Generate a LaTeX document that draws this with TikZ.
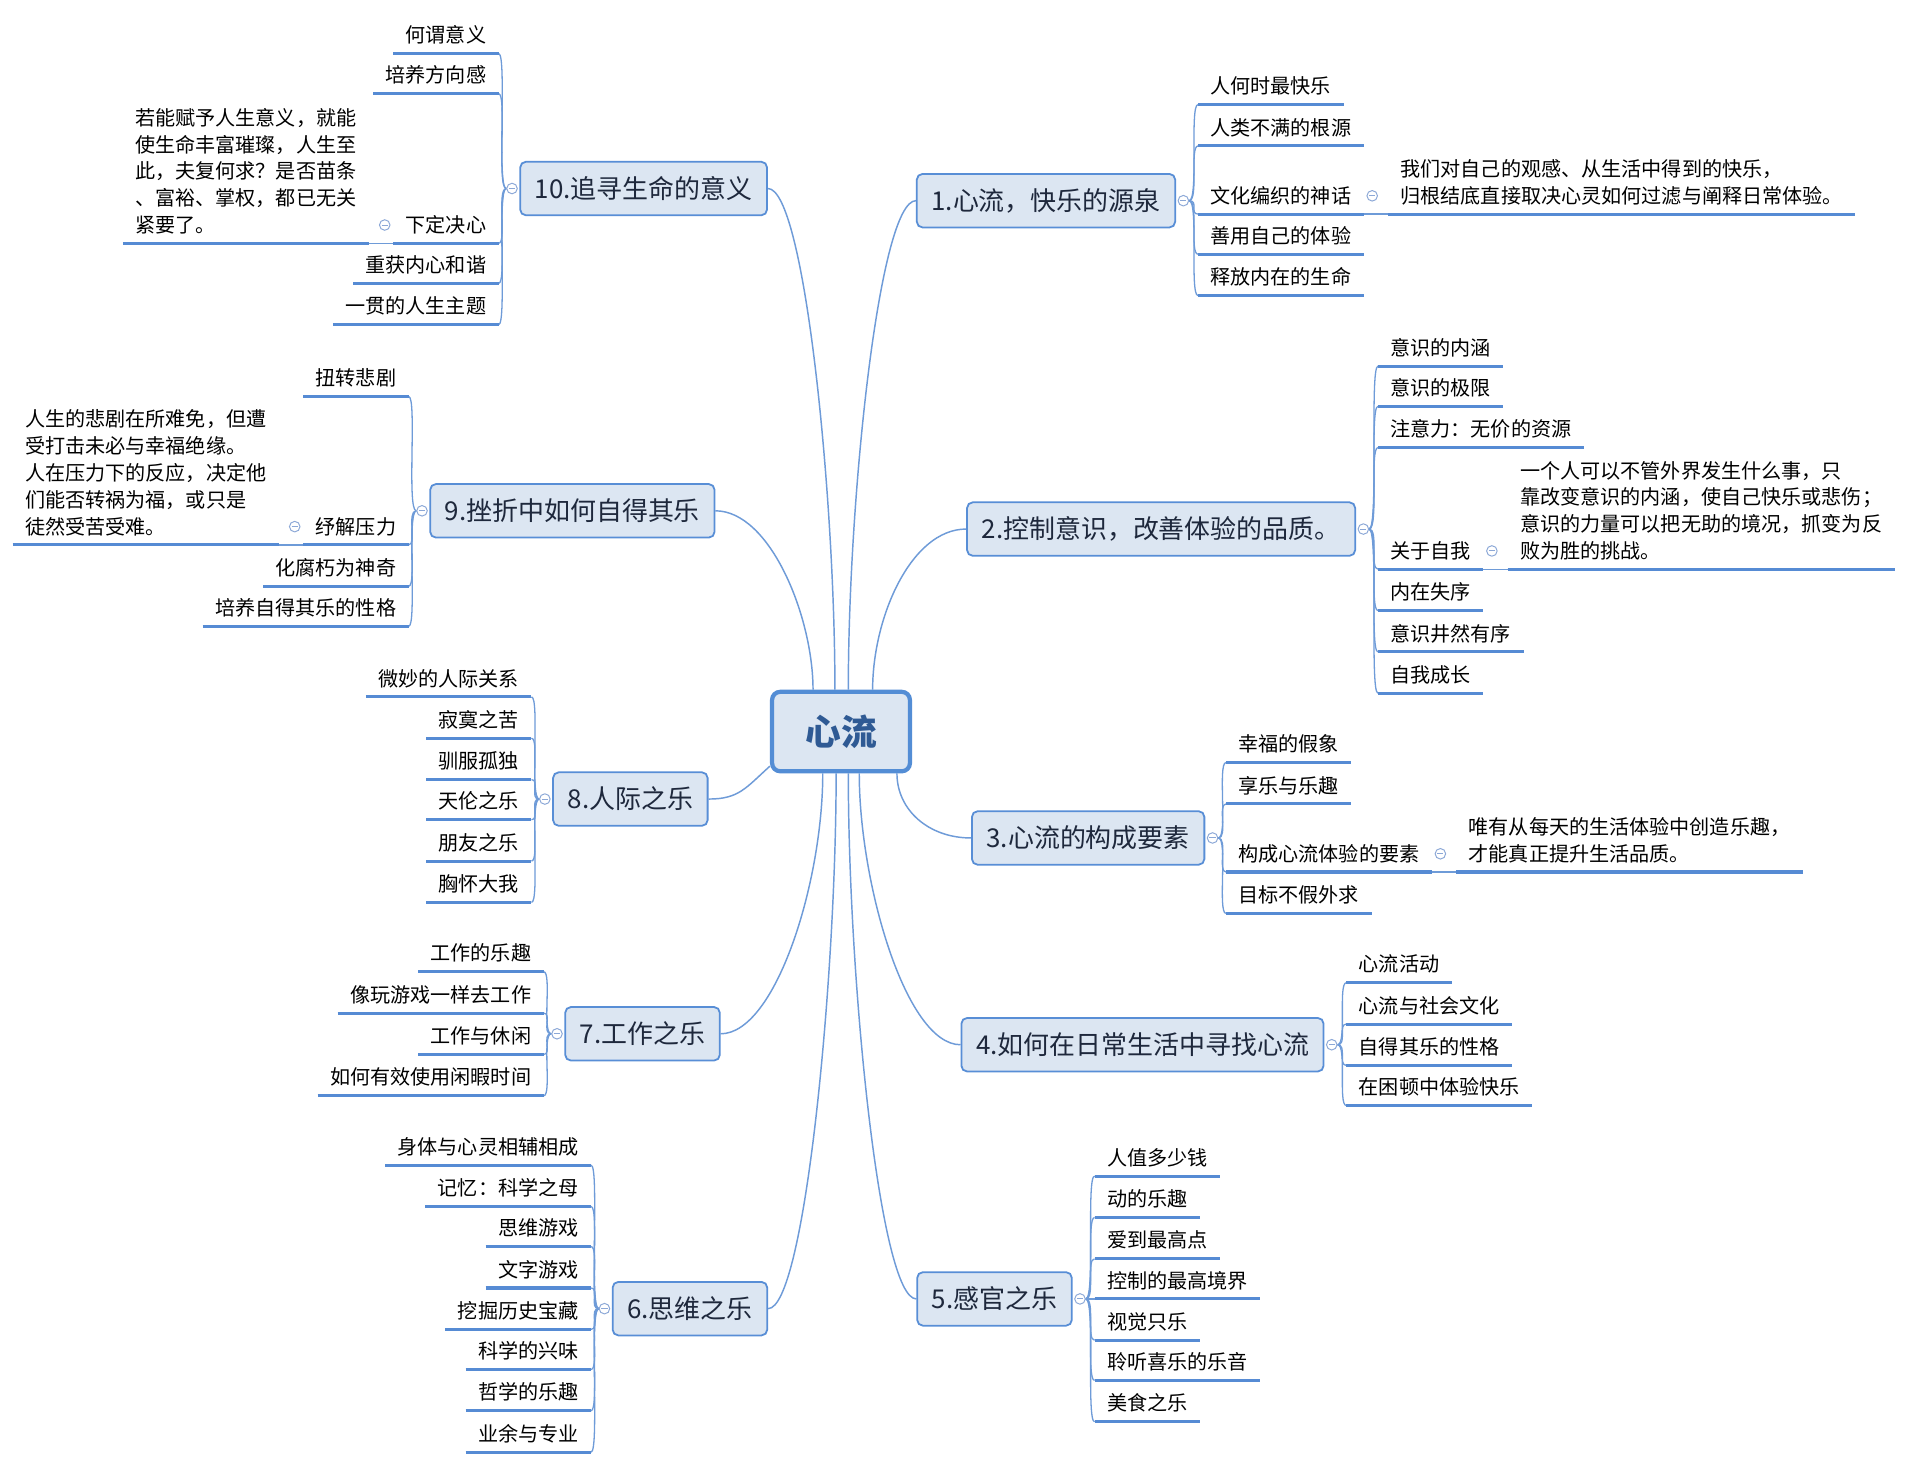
\documentclass[tikz,border=0pt]{standalone}
\usepackage{fontspec}
\setmainfont{Noto Sans CJK SC}
\usetikzlibrary{calc}
\definecolor{lineblue}{RGB}{110,155,216}
\definecolor{ulblue}{RGB}{86,139,212}
\definecolor{boxfill}{RGB}{220,230,242}
\definecolor{boxline}{RGB}{88,142,214}
\definecolor{cenline}{RGB}{83,141,213}
\definecolor{centext}{RGB}{47,90,148}
\definecolor{brtext}{RGB}{30,40,60}
\definecolor{mkblue}{RGB}{140,168,215}
\newcommand\dstrut{\rule[-2.5pt]{0pt}{2.5pt}}
\pgfdeclarelayer{bg}
\pgfsetlayers{bg,main}
\begin{document}
\begin{tikzpicture}[x=0.75pt,y=-0.75pt,
  conn/.style={draw=lineblue,line width=0.9pt},
  brk/.style={draw=lineblue,line width=0.8pt},
  uline/.style={draw=ulblue,line width=1.9pt},
  hub/.style={draw=cenline,line width=2.6pt,fill=boxfill,rounded corners=5pt,minimum width=85pt,minimum height=49pt,text=centext,font=\fontsize{22pt}{26pt}\selectfont\bfseries},
  branch/.style={draw=boxline,line width=1.1pt,fill=boxfill,rounded corners=3.5pt,minimum height=33pt,inner xsep=9pt,text=brtext,font=\fontsize{16pt}{19pt}\selectfont},
  leaf/.style={inner xsep=7.5pt,inner ysep=4pt,text height=10pt,text depth=2.5pt,font=\fontsize{12.4pt}{16.5pt}\selectfont},
  detail/.style={inner xsep=7.5pt,inner ysep=4pt,align=left,font=\fontsize{12.4pt}{16.5pt}\selectfont},
  marker/.style={circle,draw=mkblue,line width=0.6pt,fill=white,minimum size=6.5pt,inner sep=0pt,
    path picture={\draw[mkblue,line width=0.6pt] ([xshift=-1.9pt]path picture bounding box.center) -- ([xshift=1.9pt]path picture bounding box.center);}},
]
\useasboundingbox (0,0) rectangle (1568,1208);

% central node
\node[hub] (hub) at (691.5,601.5) {心流};

% branch markers
\node[marker] (m1) at (973,165) {};
\node[marker] (m2) at (1121,435) {};
\node[marker] (m3) at (997,689) {};
\node[marker] (m4) at (1095,859) {};
\node[marker] (m5) at (888,1068) {};
\node[marker] (m6) at (497,1076) {};
\node[marker] (m7) at (458,850) {};
\node[marker] (m8) at (448,657) {};
\node[marker] (m9) at (347,420) {};
\node[marker] (m10) at (421,155) {};

% branch nodes
\node[branch,anchor=east] (b1) at (967,165) {1.心流，快乐的源泉};
\node[branch,anchor=east] (b2) at (1115,435) {2.控制意识，改善体验的品质。};
\node[branch,anchor=east] (b3) at (991,689) {3.心流的构成要素};
\node[branch,anchor=east] (b4) at (1089,859) {4.如何在日常生活中寻找心流};
\node[branch,anchor=east] (b5) at (882,1068) {5.感官之乐};
\node[branch,anchor=west] (b6) at (503,1076) {6.思维之乐};
\node[branch,anchor=west] (b7) at (464,850) {7.工作之乐};
\node[branch,anchor=west] (b8) at (454,657) {8.人际之乐};
\node[branch,anchor=west] (b9) at (353,420) {9.挫折中如何自得其乐};
\node[branch,anchor=west] (b10) at (427,155) {10.追寻生命的意义};

% anchor points on the central node
\coordinate (h9) at ($(hub.north)+(-23,0)$);
\coordinate (h10) at ($(hub.north)+(-5,0)$);
\coordinate (h1) at ($(hub.north)+(6,0)$);
\coordinate (h2) at ($(hub.north)+(26,0)$);
\coordinate (h7) at ($(hub.south)+(-15,0)$);
\coordinate (h6) at ($(hub.south)+(-4,0)$);
\coordinate (h5) at ($(hub.south)+(6,0)$);
\coordinate (h4) at ($(hub.south)+(15,0)$);
\coordinate (h3) at ($(hub.south)+(46,0)$);
\coordinate (h8) at ($(hub.south west)+(0,-6)$);

% ---------- leaves ----------
% branch 1
\node[leaf,anchor=south west] (l1a) at (985,86) {人何时最快乐};
\node[leaf,anchor=south west] (l1b) at (985,120) {人类不满的根源};
\node[leaf,anchor=south west] (l1c) at (985,176) {文化编织的神话};
\node[leaf,anchor=south west] (l1d) at (985,209) {善用自己的体验};
\node[leaf,anchor=south west] (l1e) at (985,243) {释放内在的生命};
\node[detail,anchor=south west] (d1) at ($(l1c.south east)+(20,0)$) {我们对自己的观感、从生活中得到的快乐，\\归根结底直接取决心灵如何过滤与阐释日常体验。\dstrut};
\node[marker] (k1) at ($(l1c.south east)+(7,-15)$) {};

% branch 2
\node[leaf,anchor=south west] (l2a) at (1133,301) {意识的内涵};
\node[leaf,anchor=south west] (l2b) at (1133,334) {意识的极限};
\node[leaf,anchor=south west] (l2c) at (1133,368) {注意力：无价的资源};
\node[leaf,anchor=south west] (l2d) at (1133,468) {关于自我};
\node[leaf,anchor=south west] (l2e) at (1133,502) {内在失序};
\node[leaf,anchor=south west] (l2f) at (1133,536) {意识井然有序};
\node[leaf,anchor=south west] (l2g) at (1133,570) {自我成长};
\node[detail,anchor=south west] (d2) at ($(l2d.south east)+(20,0)$) {一个人可以不管外界发生什么事，只\\靠改变意识的内涵，使自己快乐或悲伤；\\意识的力量可以把无助的境况，抓变为反\\败为胜的挑战。\dstrut};
\node[marker] (k2) at ($(l2d.south east)+(7,-15)$) {};

% branch 3
\node[leaf,anchor=south west] (l3a) at (1008,627) {幸福的假象};
\node[leaf,anchor=south west] (l3b) at (1008,661) {享乐与乐趣};
\node[leaf,anchor=south west] (l3c) at (1008,717) {构成心流体验的要素};
\node[leaf,anchor=south west] (l3d) at (1008,751) {目标不假外求};
\node[detail,anchor=south west] (d3) at ($(l3c.south east)+(20,0)$) {唯有从每天的生活体验中创造乐趣，\\才能真正提升生活品质。\dstrut};
\node[marker] (k3) at ($(l3c.south east)+(7,-15)$) {};

% branch 4
\node[leaf,anchor=south west] (l4a) at (1107,808) {心流活动};
\node[leaf,anchor=south west] (l4b) at (1107,842) {心流与社会文化};
\node[leaf,anchor=south west] (l4c) at (1107,876) {自得其乐的性格};
\node[leaf,anchor=south west] (l4d) at (1107,909) {在困顿中体验快乐};

% branch 5
\node[leaf,anchor=south west] (l5a) at (900,967) {人值多少钱};
\node[leaf,anchor=south west] (l5b) at (900,1001) {动的乐趣};
\node[leaf,anchor=south west] (l5c) at (900,1035) {爱到最高点};
\node[leaf,anchor=south west] (l5d) at (900,1068) {控制的最高境界};
\node[leaf,anchor=south west] (l5e) at (900,1102) {视觉只乐};
\node[leaf,anchor=south west] (l5f) at (900,1135) {聆听喜乐的乐音};
\node[leaf,anchor=south west] (l5g) at (900,1169) {美食之乐};

% branch 6
\node[leaf,anchor=south east] (l6a) at (486,958) {身体与心灵相辅相成};
\node[leaf,anchor=south east] (l6b) at (486,992) {记忆：科学之母};
\node[leaf,anchor=south east] (l6c) at (486,1025) {思维游戏};
\node[leaf,anchor=south east] (l6d) at (486,1059) {文字游戏};
\node[leaf,anchor=south east] (l6e) at (486,1093) {挖掘历史宝藏};
\node[leaf,anchor=south east] (l6f) at (486,1126) {科学的兴味};
\node[leaf,anchor=south east] (l6g) at (486,1160) {哲学的乐趣};
\node[leaf,anchor=south east] (l6h) at (486,1194) {业余与专业};

% branch 7
\node[leaf,anchor=south east] (l7a) at (447,799) {工作的乐趣};
\node[leaf,anchor=south east] (l7b) at (447,833) {像玩游戏一样去工作};
\node[leaf,anchor=south east] (l7c) at (447,867) {工作与休闲};
\node[leaf,anchor=south east] (l7d) at (447,901) {如何有效使用闲暇时间};

% branch 8
\node[leaf,anchor=south east] (l8a) at (437,573) {微妙的人际关系};
\node[leaf,anchor=south east] (l8b) at (437,607) {寂寞之苦};
\node[leaf,anchor=south east] (l8c) at (437,641) {驯服孤独};
\node[leaf,anchor=south east] (l8d) at (437,674) {天伦之乐};
\node[leaf,anchor=south east] (l8e) at (437,708) {朋友之乐};
\node[leaf,anchor=south east] (l8f) at (437,742) {胸怀大我};

% branch 9
\node[leaf,anchor=south east] (l9a) at (336,326) {扭转悲剧};
\node[leaf,anchor=south east] (l9b) at (336,448) {纾解压力};
\node[leaf,anchor=south east] (l9c) at (336,482) {化腐朽为神奇};
\node[leaf,anchor=south east] (l9d) at (336,515) {培养自得其乐的性格};
\node[detail,anchor=south east] (d9) at ($(l9b.south west)+(-20,0)$) {人生的悲剧在所难免，但遭\\受打击未必与幸福绝缘。\\人在压力下的反应，决定他\\们能否转祸为福，或只是\\徒然受苦受难。\dstrut};
\node[marker] (k9) at ($(l9b.south west)+(-7,-15)$) {};

% branch 10
\node[leaf,anchor=south east] (l10a) at (410,44) {何谓意义};
\node[leaf,anchor=south east] (l10b) at (410,77) {培养方向感};
\node[leaf,anchor=south east] (l10c) at (410,200) {下定决心};
\node[leaf,anchor=south east] (l10d) at (410,233) {重获内心和谐};
\node[leaf,anchor=south east] (l10e) at (410,267) {一贯的人生主题};
\node[detail,anchor=south east] (d10) at ($(l10c.south west)+(-20,0)$) {若能赋予人生意义，就能\\使生命丰富璀璨，人生至\\此，夫复何求？是否苗条\\、富裕、掌权，都已无关\\紧要了。\dstrut};
\node[marker] (k10) at ($(l10c.south west)+(-7,-15)$) {};

% underlines
\foreach \n in {l1a,l1b,l1c,l1d,l1e,d1,l2a,l2b,l2c,l2d,l2e,l2f,l2g,d2,l3a,l3b,l3c,l3d,d3,l4a,l4b,l4c,l4d,l5a,l5b,l5c,l5d,l5e,l5f,l5g,l6a,l6b,l6c,l6d,l6e,l6f,l6g,l6h,l7a,l7b,l7c,l7d,l8a,l8b,l8c,l8d,l8e,l8f,l9a,l9b,l9c,l9d,d9,l10a,l10b,l10c,l10d,l10e,d10}
  \draw[uline] (\n.south west) -- (\n.south east);

\begin{pgfonlayer}{bg}
\fill[white] (0,0) rectangle (1568,1208);
% central connectors
\draw[conn] (h1) .. controls +(0,-160) and +(-30,0) .. (b1.west);
\draw[conn] (h2) .. controls +(0,-60) and +(-45,0) .. (b2.west);
\draw[conn] (h3) .. controls +(0,30) and +(-35,0) .. (b3.west);
\draw[conn] (h4) .. controls +(0,90) and +(-45,0) .. (b4.west);
\draw[conn] (h5) .. controls +(0,170) and +(-30,0) .. (b5.west);
\draw[conn] (h6) .. controls +(0,170) and +(30,0) .. (b6.east);
\draw[conn] (h7) .. controls +(0,90) and +(45,0) .. (b7.east);
\draw[conn] (h8) .. controls +(-20,18) and +(25,0) .. (b8.east);
\draw[conn] (h9) .. controls +(0,-60) and +(45,0) .. (b9.east);
\draw[conn] (h10) .. controls +(0,-160) and +(30,0) .. (b10.east);

% brackets right side
\foreach \m/\l in {m1/l1a,m1/l1b,m1/l1c,m1/l1d,m1/l1e,m2/l2a,m2/l2b,m2/l2c,m2/l2d,m2/l2e,m2/l2f,m2/l2g,m3/l3a,m3/l3b,m3/l3c,m3/l3d,m4/l4a,m4/l4b,m4/l4c,m4/l4d,m5/l5a,m5/l5b,m5/l5c,m5/l5d,m5/l5e,m5/l5f,m5/l5g}
  \draw[brk] (\m.east) .. controls +(8,0) and +(-7,0) .. (\l.south west);
% brackets left side
\foreach \m/\l in {m6/l6a,m6/l6b,m6/l6c,m6/l6d,m6/l6e,m6/l6f,m6/l6g,m6/l6h,m7/l7a,m7/l7b,m7/l7c,m7/l7d,m8/l8a,m8/l8b,m8/l8c,m8/l8d,m8/l8e,m8/l8f,m9/l9a,m9/l9b,m9/l9c,m9/l9d,m10/l10a,m10/l10b,m10/l10c,m10/l10d,m10/l10e}
  \draw[brk] (\m.west) .. controls +(-8,0) and +(7,0) .. (\l.south east);

% links to details
\draw[brk] (l1c.south east) -- (d1.south west);
\draw[brk] (l2d.south east) -- (d2.south west);
\draw[brk] (l3c.south east) -- (d3.south west);
\draw[brk] (l9b.south west) -- (d9.south east);
\draw[brk] (l10c.south west) -- (d10.south east);
\end{pgfonlayer}
\end{tikzpicture}
\end{document}
